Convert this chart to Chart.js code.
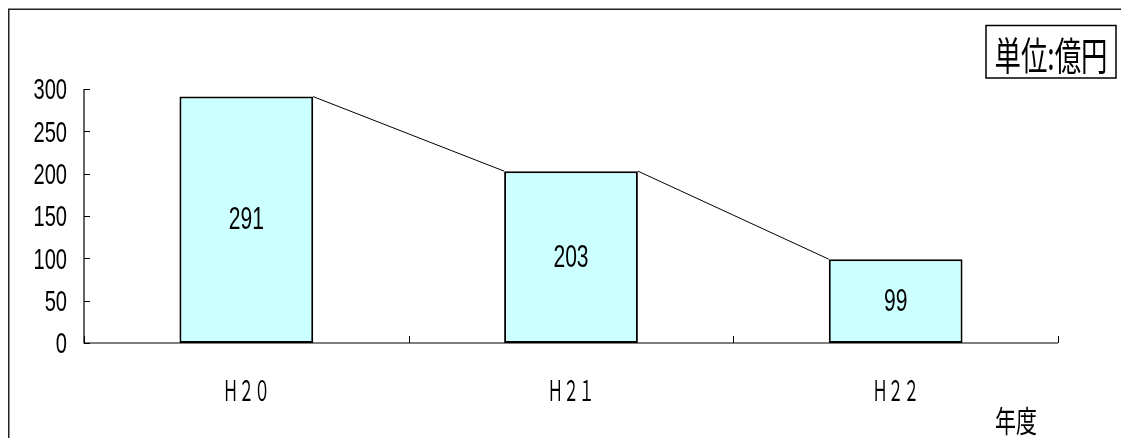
<!DOCTYPE html>
<html><head><meta charset="utf-8">
<script src="https://cdn.jsdelivr.net/npm/chart.js@4"></script>
<style>html,body{margin:0;padding:0;background:#fff;}canvas{display:block;}</style>
</head><body>
<canvas id="c" width="1121" height="438"></canvas>
<script>
const categories = ['Ｈ２０', 'Ｈ２１', 'Ｈ２２'];
const values = [291, 203, 99];
const yMin = 0, yMax = 300, yStep = 50;
const unitLabel = '単位:億円';
const xAxisTitle = '年度';

function drawSqueezed(ctx, text, x, y, font, k, align) {
  ctx.save();
  ctx.font = font;
  ctx.textBaseline = 'middle';
  ctx.textAlign = 'left';
  const w = ctx.measureText(text).width * k;
  const x0 = align === 'right' ? x - w : align === 'center' ? x - w / 2 : x;
  ctx.translate(x0, y);
  ctx.scale(k, 1);
  ctx.fillStyle = '#000';
  ctx.fillText(text, 0, 0);
  ctx.restore();
}
function fitK(ctx, text, font, width) {
  ctx.save(); ctx.font = font;
  const w = ctx.measureText(text).width;
  ctx.restore();
  return width / w;
}

const decor = {
  id: 'decor',
  beforeDraw(chart) {
    const ctx = chart.ctx;
    ctx.save();
    ctx.fillStyle = '#fff';
    ctx.fillRect(0, 0, chart.width, chart.height);
    ctx.restore();
  },
  afterDatasetsDraw(chart) {
    const ctx = chart.ctx;
    const meta = chart.getDatasetMeta(0);
    ctx.save();
    ctx.strokeStyle = '#000';
    ctx.lineWidth = 1;
    for (let i = 0; i < meta.data.length - 1; i++) {
      const a = meta.data[i], b = meta.data[i + 1];
      ctx.beginPath();
      ctx.moveTo(a.x + a.width / 2, a.y);
      ctx.lineTo(b.x - b.width / 2, b.y);
      ctx.stroke();
    }
    ctx.restore();
  },
  afterDraw(chart) {
    const ctx = chart.ctx;
    const xs = chart.scales.x, ys = chart.scales.y;
    const left = chart.chartArea.left, right = chart.chartArea.right;
    const bottom = chart.chartArea.bottom;
    ctx.save();
    // outer frame
    ctx.strokeStyle = '#222';
    ctx.lineWidth = 1.5;
    ctx.strokeRect(8.75, 9.25, 1200, 600);
    // axes
    ctx.strokeStyle = '#000';
    ctx.lineWidth = 1.2;
    ctx.beginPath();
    ctx.moveTo(left, ys.getPixelForValue(yMax));
    ctx.lineTo(left, bottom);
    ctx.lineTo(right, bottom);
    ctx.stroke();
    ctx.lineWidth = 1;
    // y ticks (inward)
    for (let v = yMin; v <= yMax; v += yStep) {
      const y = Math.round(ys.getPixelForValue(v)) + 0.5;
      ctx.beginPath(); ctx.moveTo(left, y); ctx.lineTo(left + 6, y); ctx.stroke();
      drawSqueezed(ctx, String(v), 67, ys.getPixelForValue(v) + 2, '30px "Liberation Sans"', 0.67, 'right');
    }
    // x ticks at category boundaries (inward)
    for (let i = 0; i <= categories.length; i++) {
      const x = Math.round(xs.getPixelForValue(i - 0.5)) + 0.5;
      ctx.beginPath(); ctx.moveTo(x, bottom); ctx.lineTo(x, bottom - 7); ctx.stroke();
    }
    // x labels
    categories.forEach((c, i) => {
      drawSqueezed(ctx, c, xs.getPixelForValue(i), 390, '28px "Noto Sans CJK JP"', 0.56, 'center');
    });
    // value labels
    const meta = chart.getDatasetMeta(0);
    meta.data.forEach((el, i) => {
      drawSqueezed(ctx, String(values[i]), el.x, (el.y + el.base) / 2 + 1, '31px "Liberation Sans"', 0.68, 'center');
    });
    // unit box
    ctx.strokeStyle = '#000';
    ctx.lineWidth = 1.5;
    ctx.strokeRect(986, 25.5, 130, 52.5);
    const uf = '39px "Noto Sans CJK JP"';
    drawSqueezed(ctx, unitLabel, 1051, 55, uf, fitK(ctx, unitLabel, uf, 113), 'center');
    // axis title
    drawSqueezed(ctx, xAxisTitle, 1016, 421, '30px "Noto Sans CJK JP"', 0.7, 'center');
    ctx.restore();
  }
};

new Chart(document.getElementById('c'), {
  type: 'bar',
  data: {
    labels: categories,
    datasets: [{
      data: values,
      backgroundColor: '#CCFFFF',
      borderColor: '#000',
      borderWidth: 2,
      borderSkipped: false,
      categoryPercentage: 1,
      barPercentage: 0.412
    }]
  },
  options: {
    responsive: false,
    animation: false,
    devicePixelRatio: 1,
    layout: { padding: { top: 89, right: 63, left: 0, bottom: 0 } },
    plugins: { legend: { display: false }, tooltip: { enabled: false } },
    scales: {
      x: {
        offset: true,
        grid: { display: false },
        border: { display: false },
        ticks: { display: false },
        afterFit(s) { s.height = 95; }
      },
      y: {
        min: yMin, max: yMax,
        grid: { display: false },
        border: { display: false },
        ticks: { display: false, stepSize: yStep },
        afterFit(s) { s.width = 84; }
      }
    }
  },
  plugins: [decor]
});
</script>
</body></html>
